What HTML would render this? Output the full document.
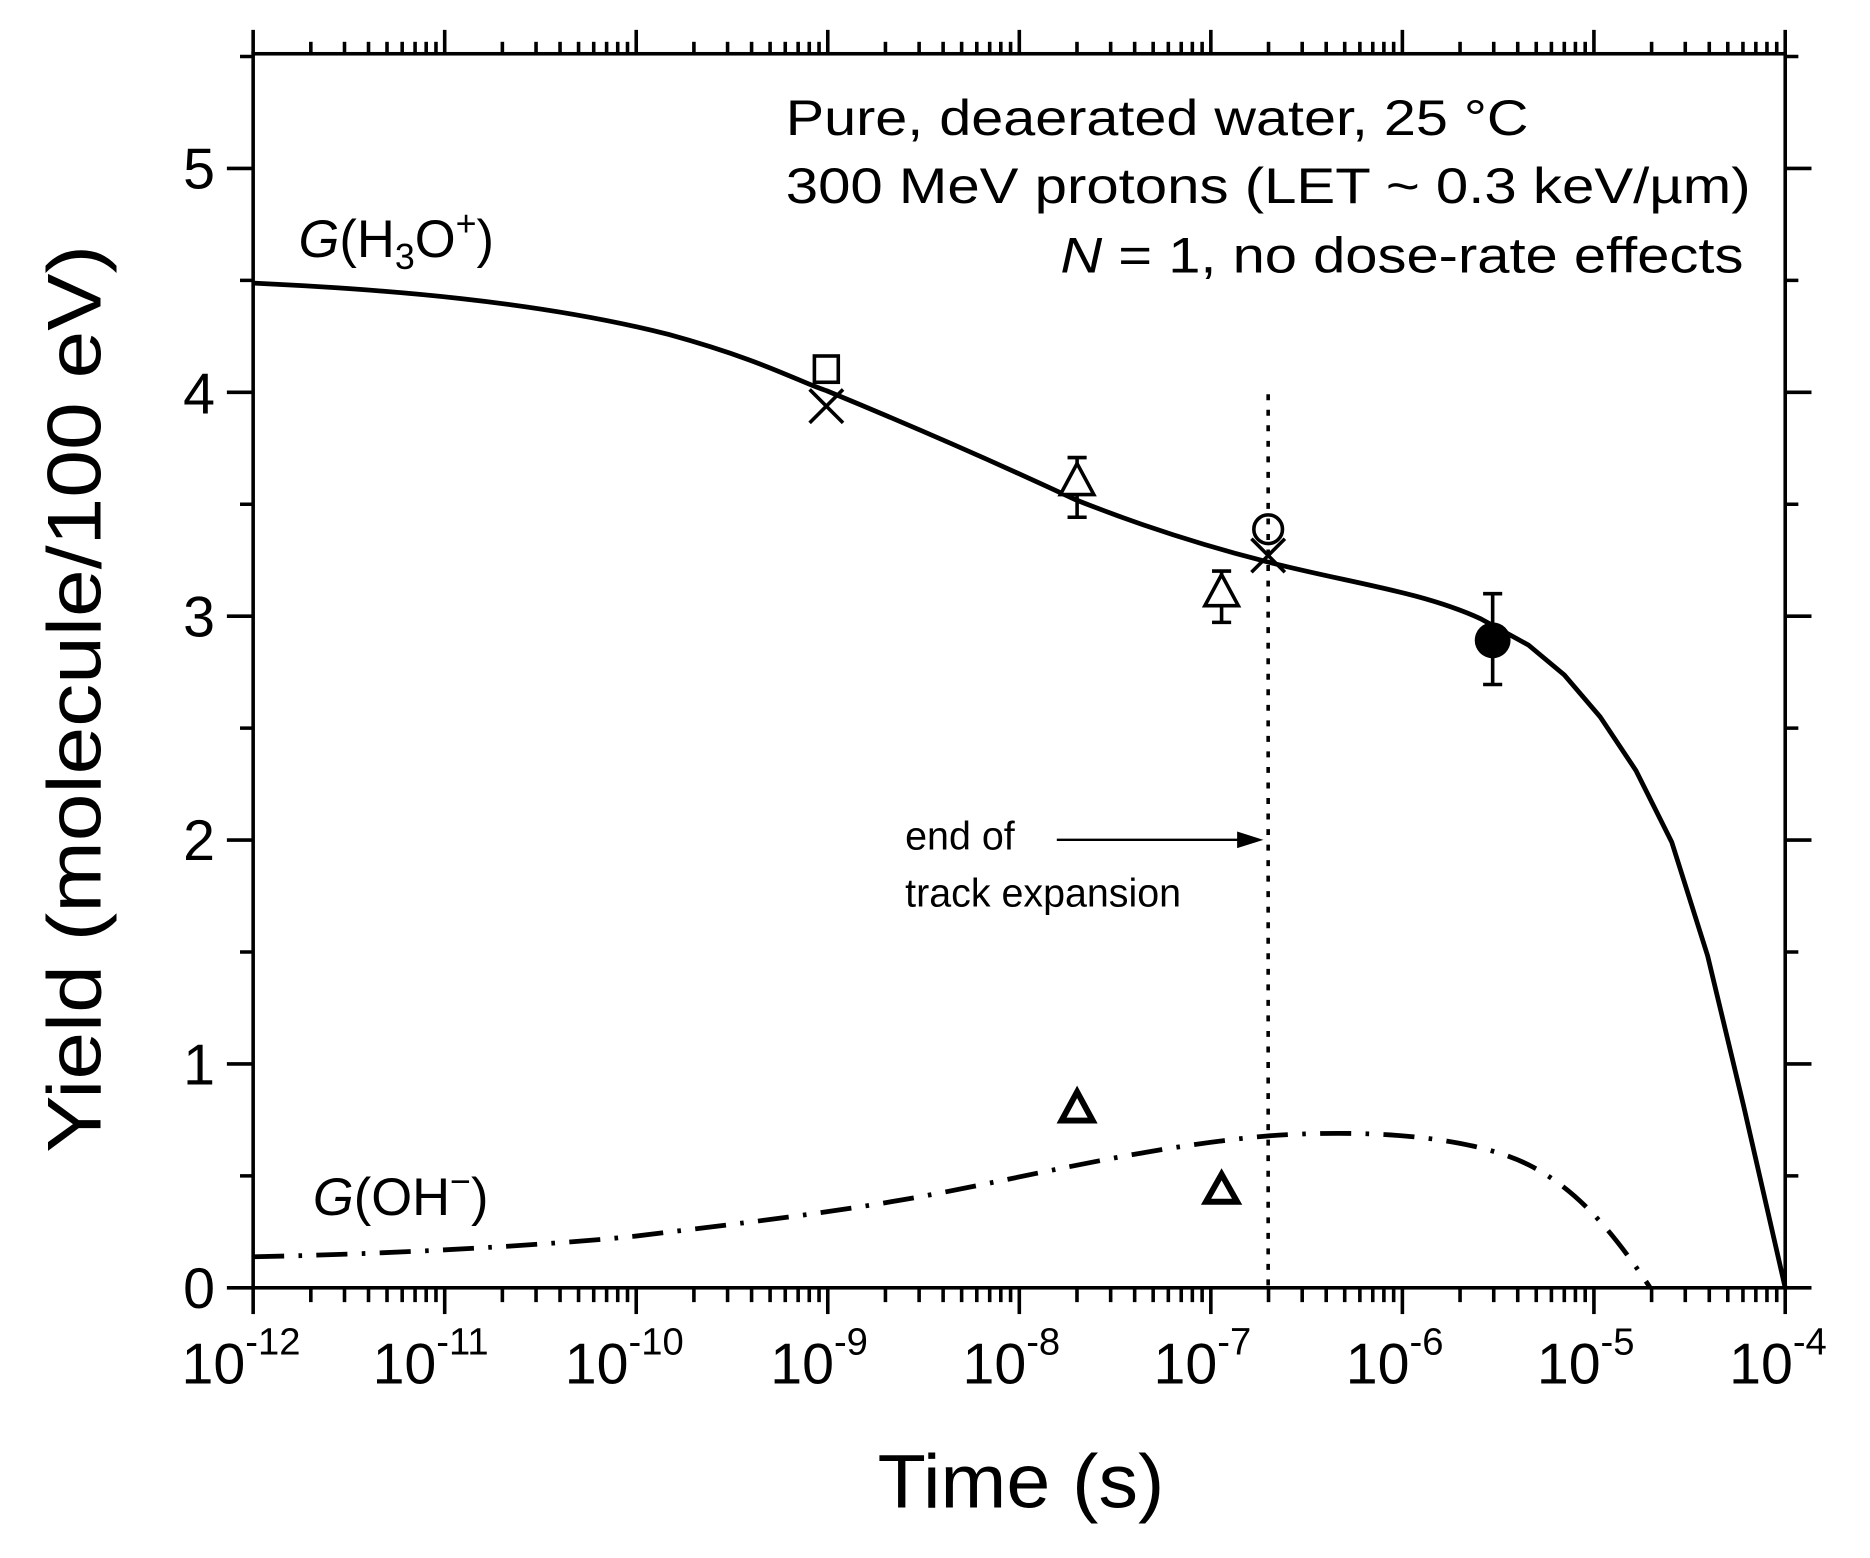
<!DOCTYPE html>
<html><head><meta charset="utf-8"><style>html,body{margin:0;padding:0;background:#fff}</style></head>
<body>
<svg width="1870" height="1553" viewBox="0 0 1566 1300" preserveAspectRatio="none" xmlns="http://www.w3.org/2000/svg" font-family="Liberation Sans, Arial, sans-serif">
<defs>
<g id="dec" stroke="#000" stroke-width="3">
<line x1="0" y1="1078" x2="0" y2="1100"/>
<line x1="48.3" y1="1078" x2="48.3" y2="1090"/><line x1="76.5" y1="1078" x2="76.5" y2="1090"/><line x1="96.6" y1="1078" x2="96.6" y2="1090"/><line x1="112.1" y1="1078" x2="112.1" y2="1090"/><line x1="124.8" y1="1078" x2="124.8" y2="1090"/><line x1="135.6" y1="1078" x2="135.6" y2="1090"/><line x1="144.9" y1="1078" x2="144.9" y2="1090"/><line x1="153.1" y1="1078" x2="153.1" y2="1090"/>
<line x1="0" y1="45" x2="0" y2="25"/>
<line x1="48.3" y1="45" x2="48.3" y2="35"/><line x1="76.5" y1="45" x2="76.5" y2="35"/><line x1="96.6" y1="45" x2="96.6" y2="35"/><line x1="112.1" y1="45" x2="112.1" y2="35"/><line x1="124.8" y1="45" x2="124.8" y2="35"/><line x1="135.6" y1="45" x2="135.6" y2="35"/><line x1="144.9" y1="45" x2="144.9" y2="35"/><line x1="153.1" y1="45" x2="153.1" y2="35"/>
</g>
</defs>
<rect width="1566" height="1300" fill="#fff"/>
<rect x="212" y="45" width="1283" height="1033" stroke="#000" stroke-width="3" fill="none"/>
<use href="#dec" x="212"/><use href="#dec" x="372.4"/><use href="#dec" x="532.8"/><use href="#dec" x="693.2"/><use href="#dec" x="853.6"/><use href="#dec" x="1014"/><use href="#dec" x="1174.4"/><use href="#dec" x="1334.8"/>
<g stroke="#000" stroke-width="3">
<line x1="1495" y1="1078" x2="1495" y2="1100"/><line x1="1495" y1="45" x2="1495" y2="25"/>
<path d="M190,1078H212M190,890.6H212M190,703.2H212M190,515.8H212M190,328.4H212M190,141H212M201,984.3H212M201,796.9H212M201,609.5H212M201,422.1H212M201,234.7H212M201,47.3H212"/>
<path d="M1495,1078H1517M1495,890.6H1517M1495,703.2H1517M1495,515.8H1517M1495,328.4H1517M1495,141H1517M1495,984.3H1506M1495,796.9H1506M1495,609.5H1506M1495,422.1H1506M1495,234.7H1506M1495,47.3H1506"/>
</g>
<g font-size="48" text-anchor="end">
<text x="180" y="1095">0</text><text x="180" y="908">1</text><text x="180" y="720">2</text><text x="180" y="533">3</text><text x="180" y="346">4</text><text x="180" y="158">5</text>
</g>
<g font-size="48">
<text x="152" y="1158">10<tspan font-size="32" dy="-24">-12</tspan></text>
<text x="312" y="1158">10<tspan font-size="32" dy="-24">-11</tspan></text>
<text x="473" y="1158">10<tspan font-size="32" dy="-24">-10</tspan></text>
<text x="645" y="1158">10<tspan font-size="32" dy="-24">-9</tspan></text>
<text x="806" y="1158">10<tspan font-size="32" dy="-24">-8</tspan></text>
<text x="966" y="1158">10<tspan font-size="32" dy="-24">-7</tspan></text>
<text x="1127" y="1158">10<tspan font-size="32" dy="-24">-6</tspan></text>
<text x="1287" y="1158">10<tspan font-size="32" dy="-24">-5</tspan></text>
<text x="1448" y="1158">10<tspan font-size="32" dy="-24">-4</tspan></text>
</g>
<text x="735" y="1262" font-size="64" textLength="240" lengthAdjust="spacingAndGlyphs">Time (s)</text>
<text transform="translate(84,965) rotate(-90)" font-size="64" textLength="760" lengthAdjust="spacingAndGlyphs">Yield (molecule/100 eV)</text>
<g font-size="42">
<text x="658" y="113" textLength="622" lengthAdjust="spacingAndGlyphs">Pure, deaerated water, 25 °C</text>
<text x="658" y="170" textLength="808" lengthAdjust="spacingAndGlyphs">300 MeV protons (LET ~ 0.3 keV/µm)</text>
<text x="888" y="228" textLength="572" lengthAdjust="spacingAndGlyphs"><tspan font-style="italic">N</tspan> = 1, no dose-rate effects</text>
</g>
<g font-size="44">
<text x="250" y="215"><tspan font-style="italic">G</tspan>(H<tspan font-size="30" dy="10">3</tspan><tspan dy="-10">O</tspan><tspan font-size="30" dy="-18">+</tspan><tspan dy="18">)</tspan></text>
<text x="262" y="1017"><tspan font-style="italic">G</tspan>(OH<tspan font-size="30" dy="-18">−</tspan><tspan dy="18">)</tspan></text>
</g>
<g font-size="33"><text x="758" y="711">end of</text><text x="758" y="759">track expansion</text></g>
<line x1="885" y1="703" x2="1040" y2="703" stroke="#000" stroke-width="2"/>
<polygon points="1058,703 1036,696 1036,710" fill="#000"/>
<line x1="1062" y1="330" x2="1062" y2="1078" stroke="#000" stroke-width="3" stroke-dasharray="5,8"/>
<path fill="none" stroke="#000" stroke-width="4" stroke-linejoin="round" d="M212,237 C320,242 450,252 560,280 C640,302 670,320 692,327 C760,355 840,390 900,418 C960,442 1013,458 1060,470 C1130,488 1190,495 1240,518 L1280,540 L1310,565 L1340,600 L1370,645 L1400,705 L1430,800 L1460,925 L1495,1078"/>
<path fill="none" stroke="#000" stroke-width="4" stroke-dasharray="26,12,3,12" d="M212,1052 C320,1050 450,1043 530,1035 C620,1024 700,1015 780,1000 C860,985 960,960 1060,951 C1140,945 1230,950 1280,975 C1320,995 1350,1030 1382,1078"/>
<g stroke="#000" stroke-width="3" fill="none">
<rect x="682" y="298" width="20" height="22"/>
<path d="M678,326 L706,354 M706,326 L678,354"/>
<path d="M1048,451 L1076,479 M1076,451 L1048,479"/>
<circle cx="1062" cy="443" r="12"/>
<path d="M902,383 V433 M894,383 H910 M894,433 H910"/>
<polygon points="902,388 888,414 916,414" fill="#fff"/>
<path d="M1023,478 V521 M1015,478 H1031 M1015,521 H1031"/>
<polygon points="1023,481 1009,507 1037,507" fill="#fff"/>
<path d="M1250,497 V573 M1242,497 H1258 M1242,573 H1258"/>
<polygon points="902,914 889,938 915,938" stroke-width="5"/>
<polygon points="1023,983 1010,1006 1036,1006" stroke-width="5"/>
</g>
<circle cx="1250" cy="536" r="15" fill="#000"/>
</svg>
</body></html>
